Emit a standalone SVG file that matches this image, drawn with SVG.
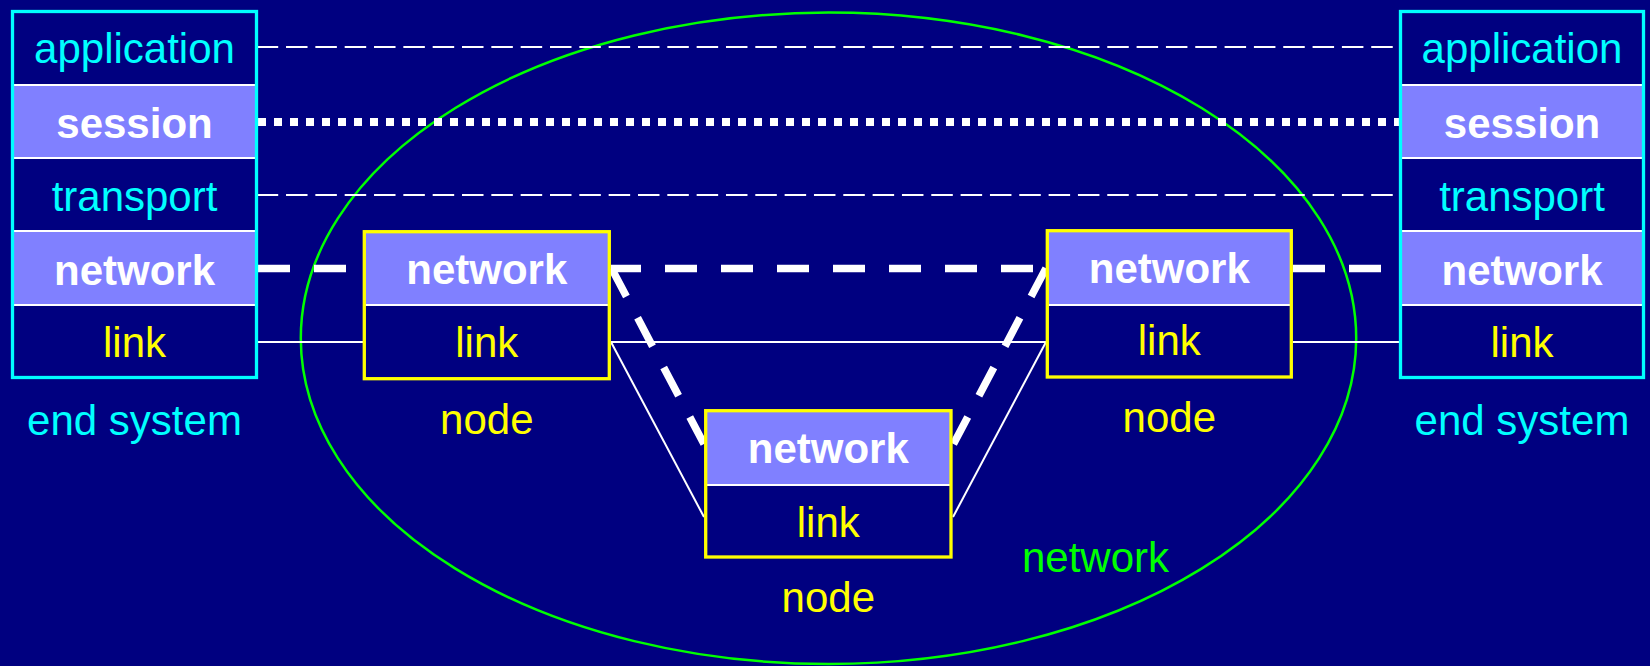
<svg xmlns="http://www.w3.org/2000/svg" width="1650" height="666" viewBox="0 0 1650 666">
<style>
text{font-family:"Liberation Sans",Arial,sans-serif;font-size:42px;text-anchor:middle}
.cy{fill:#00FFFF}
.ye{fill:#FFFF00}
.wb{fill:#FFFFFF;font-weight:bold}
.gr{fill:#00FF00}
.band{fill:#8080FF}
.sep{stroke:#FFFFFF;stroke-width:2}
.ebox{fill:none;stroke:#00FFFF;stroke-width:3.3}
.nbox{fill:none;stroke:#FFFF00;stroke-width:3.3}
.thin{stroke:#FFFFFF;stroke-width:2;fill:none}
.dash{stroke:#FFFFFF;stroke-width:2;stroke-dasharray:21.5 7.83;stroke-dashoffset:1.3;fill:none}
.dot{stroke:#FFFFFF;stroke-width:8;stroke-dasharray:8 8;fill:none}
.thick{stroke:#FFFFFF;stroke-width:7.5;stroke-dasharray:32 24;fill:none}
</style>
<rect x="0" y="0" width="1650" height="666" fill="#000080"/>
<g id="network-cloud">
<ellipse cx="828.5" cy="338.3" rx="527.7" ry="325.7" fill="none" stroke="#00FF00" stroke-width="2.5"/>
<text class="gr" x="1095.5" y="571.5">network</text>
</g>
<g id="connectors">
<line class="dash" x1="258" y1="47" x2="1399" y2="47"/>
<line class="dot" x1="258" y1="122" x2="1399" y2="122"/>
<line class="dash" x1="258" y1="195" x2="1399" y2="195"/>
<line class="thick" x1="258" y1="268.5" x2="363" y2="268.5"/>
<line class="thick" x1="611" y1="268.5" x2="1046" y2="268.5" style="stroke-dashoffset:2"/>
<line class="thick" x1="1293" y1="268.5" x2="1399" y2="268.5"/>
<line class="thick" x1="611.5" y1="268.3" x2="704" y2="444"/>
<line class="thick" x1="1046" y1="268.3" x2="953.5" y2="444"/>
<line class="thin" x1="258" y1="342" x2="364" y2="342"/>
<line class="thin" x1="611" y1="342" x2="1046" y2="342"/>
<line class="thin" x1="1293" y1="342" x2="1399" y2="342"/>
<line class="thin" x1="611" y1="342" x2="704" y2="517"/>
<line class="thin" x1="953" y1="517" x2="1046" y2="342"/>
</g>
<g id="end-system-left">
<rect class="band" x="13" y="85" width="243" height="73"/>
<rect class="band" x="13" y="231" width="243" height="74"/>
<line class="sep" x1="13" y1="85" x2="256" y2="85"/>
<line class="sep" x1="13" y1="158" x2="256" y2="158"/>
<line class="sep" x1="13" y1="231" x2="256" y2="231"/>
<line class="sep" x1="13" y1="305" x2="256" y2="305"/>
<rect class="ebox" x="12.5" y="11.5" width="244" height="366"/>
<text class="cy" x="134.5" y="63">application</text>
<text class="wb" x="134.5" y="138">session</text>
<text class="cy" x="134.5" y="211">transport</text>
<text class="wb" x="134.5" y="285">network</text>
<text class="ye" x="134.5" y="357">link</text>
<text class="cy" x="134.5" y="435">end system</text>
</g>
<g id="end-system-right">
<rect class="band" x="1401" y="85" width="243" height="73"/>
<rect class="band" x="1401" y="231" width="243" height="74"/>
<line class="sep" x1="1401" y1="85" x2="1644" y2="85"/>
<line class="sep" x1="1401" y1="158" x2="1644" y2="158"/>
<line class="sep" x1="1401" y1="231" x2="1644" y2="231"/>
<line class="sep" x1="1401" y1="305" x2="1644" y2="305"/>
<rect class="ebox" x="1400.5" y="11.5" width="243" height="366"/>
<text class="cy" x="1522" y="63">application</text>
<text class="wb" x="1522" y="138">session</text>
<text class="cy" x="1522" y="211">transport</text>
<text class="wb" x="1522" y="285">network</text>
<text class="ye" x="1522" y="357">link</text>
<text class="cy" x="1522" y="435">end system</text>
</g>
<g id="node-1">
<rect class="band" x="365" y="232" width="244" height="72"/>
<line class="sep" x1="365" y1="305" x2="609" y2="305"/>
<rect class="nbox" x="364.3" y="231.7" width="245" height="147"/>
<text class="wb" x="486.8" y="284">network</text>
<text class="ye" x="486.8" y="357">link</text>
<text class="ye" x="486.8" y="434">node</text>
</g>
<g id="node-2">
<rect class="band" x="1048" y="231" width="244" height="73"/>
<line class="sep" x1="1048" y1="305" x2="1292" y2="305"/>
<rect class="nbox" x="1047.3" y="230.7" width="244" height="146.3"/>
<text class="wb" x="1169.3" y="283">network</text>
<text class="ye" x="1169.3" y="355">link</text>
<text class="ye" x="1169.3" y="432">node</text>
</g>
<g id="node-3">
<rect class="band" x="706" y="411" width="245" height="73"/>
<line class="sep" x1="706" y1="485" x2="951" y2="485"/>
<rect class="nbox" x="705.7" y="410.7" width="245.3" height="146.3"/>
<text class="wb" x="828.3" y="463">network</text>
<text class="ye" x="828.3" y="537">link</text>
<text class="ye" x="828.3" y="612">node</text>
</g>
</svg>
